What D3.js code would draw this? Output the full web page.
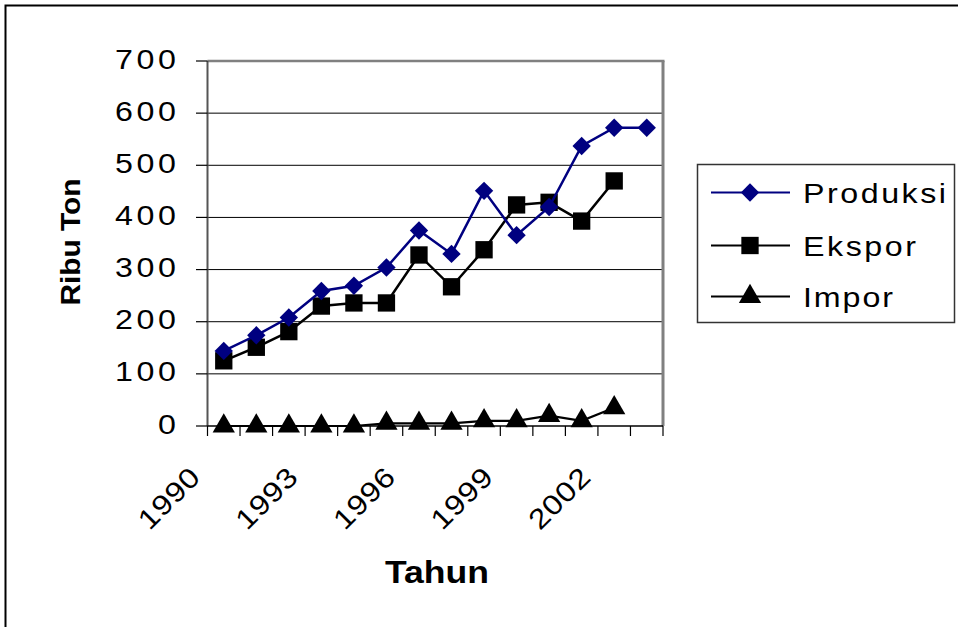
<!DOCTYPE html>
<html><head><meta charset="utf-8">
<script src="https://cdn.jsdelivr.net/npm/d3@7/dist/d3.min.js"></script>
<style>body{margin:0;background:#fff}svg{display:block}text{font-family:"Liberation Sans",Arial,sans-serif}</style>
</head><body>
<svg id="c" width="958" height="627"></svg>
<script>
const years = [1990,1991,1992,1993,1994,1995,1996,1997,1998,1999,2000,2001,2002,2003];
const produksi = [144,174,208,259,269,304,375,330,451,366,420,537,572,572];
const ekspor = [125,151,181,230,236,236,328,267,338,424,429,393,470];
const impor = [0,0,0,0,0,5,5,5,10,10,20,10,35];
const yTicks = [0,100,200,300,400,500,600,700];
const xLabelYears = [1990,1993,1996,1999,2002];
const seriesNames = ["Produksi","Ekspor","Impor"];

const svg = d3.select("#c");
const L=207.5, R=663, T=61, B=426;
const x = d3.scaleBand().domain(years).range([L,R]).padding(0);
const y = d3.scaleLinear().domain([0,700]).range([B,T]);
const cx = d => x(d)+x.bandwidth()/2;
const SX = 1.15;

function wideText(parent, tx, ty, rot, str, size, len, anchor, weight){
  const g = parent.append("g").attr("transform",`translate(${tx},${ty}) rotate(${rot}) scale(${SX},1)`);
  const t = g.append("text").attr("x",0).attr("y",0).attr("font-size",size).attr("text-anchor",anchor||"start");
  if(weight) t.attr("font-weight",weight);
  if(len) t.attr("textLength",len/SX).attr("lengthAdjust","spacing");
  t.text(str);
  return t;
}

// outer frame
svg.append("rect").attr("x",5.5).attr("y",5.5).attr("width",1000).attr("height",700)
  .attr("fill","none").attr("stroke","#000").attr("stroke-width",2);

// gridlines
svg.append("g").selectAll("line").data(yTicks.slice(1,-1)).join("line")
  .attr("x1",L).attr("x2",R).attr("y1",d=>y(d)).attr("y2",d=>y(d))
  .attr("stroke","#000").attr("stroke-width",1);

// plot border top/right
svg.append("line").attr("x1",L).attr("x2",R+1.5).attr("y1",T).attr("y2",T).attr("stroke","#808080").attr("stroke-width",2.5);
svg.append("line").attr("x1",R).attr("x2",R).attr("y1",T).attr("y2",B).attr("stroke","#808080").attr("stroke-width",3);

// y axis
svg.append("line").attr("x1",L).attr("x2",L).attr("y1",T).attr("y2",B).attr("stroke","#555").attr("stroke-width",2);
svg.append("g").selectAll("line").data(yTicks).join("line")
  .attr("x1",196).attr("x2",L).attr("y1",d=>y(d)).attr("y2",d=>y(d)).attr("stroke","#000").attr("stroke-width",1.2);
const yg = svg.append("g");
yTicks.forEach(d=>{
  const s = String(d);
  wideText(yg, 176, y(d)+7.5, 0, s, 28, s.length>1?61:null, "end");
});

// x axis
svg.append("line").attr("x1",L).attr("x2",R).attr("y1",B).attr("y2",B).attr("stroke","#000").attr("stroke-width",1.5);
const edges = years.map(d=>x(d)).concat([R]);
svg.append("g").selectAll("line").data(edges).join("line")
  .attr("x1",d=>d).attr("x2",d=>d).attr("y1",B).attr("y2",436).attr("stroke","#000").attr("stroke-width",1.2);
const xg = svg.append("g");
xLabelYears.forEach(d=>{
  wideText(xg, cx(d)-22, 479, -45, String(d), 28, 74, "end");
});

// axis titles
svg.append("text").attr("x",437).attr("y",583).attr("text-anchor","middle")
  .attr("font-size",32).attr("font-weight","bold").attr("textLength",104).attr("lengthAdjust","spacingAndGlyphs").text("Tahun");
svg.append("text").attr("transform","translate(80,242) rotate(-90)").attr("text-anchor","middle")
  .attr("font-size",28).attr("font-weight","bold").attr("textLength",127).attr("lengthAdjust","spacingAndGlyphs").text("Ribu Ton");

// marker shapes
const diamond = d3.symbol().type(d3.symbolDiamond2).size(215);
const square = d3.symbol().type(d3.symbolSquare).size(300);
const triangle = d3.symbol().type(d3.symbolTriangle).size(215);

const line = d3.line().x((d,i)=>cx(years[i])).y(d=>y(d));
const series = [
  {name:seriesNames[0], data:produksi, color:"#000080", sym:diamond, w:2.5},
  {name:seriesNames[1], data:ekspor, color:"#000", sym:square, w:2.5},
  {name:seriesNames[2], data:impor, color:"#000", sym:triangle, w:2.2}
];
series.slice().reverse().forEach(s=>{
  svg.append("path").datum(s.data).attr("d",line).attr("fill","none").attr("stroke",s.color).attr("stroke-width",s.w);
  svg.append("g").selectAll("path").data(s.data).join("path")
    .attr("d",s.sym).attr("transform",(d,i)=>`translate(${cx(years[i])},${y(d)})`).attr("fill",s.color);
});

// legend
svg.append("rect").attr("x",697.5).attr("y",164.5).attr("width",257).attr("height",158)
  .attr("fill","#fff").attr("stroke","#333").attr("stroke-width",1.5);
const legY = [192.5,245.5,296.5];
const legLen = [143,113,90];
const lg = svg.append("g");
series.forEach((s,i)=>{
  lg.append("line").attr("x1",711).attr("x2",790).attr("y1",legY[i]).attr("y2",legY[i]).attr("stroke",s.color).attr("stroke-width",2);
  lg.append("path").attr("d",s.sym).attr("transform",`translate(750,${legY[i]})`).attr("fill",s.color);
  wideText(lg, 803, legY[i]+10, 0, s.name, 28, legLen[i], "start");
});
</script>
</body></html>
